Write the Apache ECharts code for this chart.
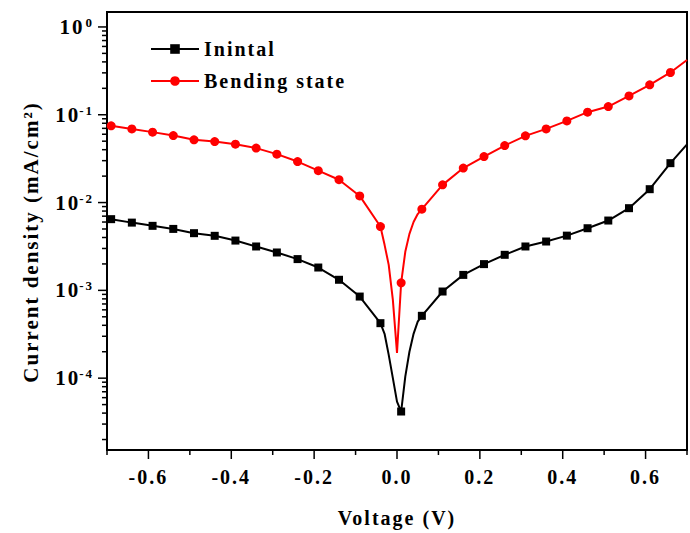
<!DOCTYPE html>
<html>
<head>
<meta charset="utf-8">
<script src="https://cdn.jsdelivr.net/npm/echarts@6/dist/echarts.min.js"></script>
<style>
    html, body { margin: 0; padding: 0; background: #fff; }
    #chart { width: 690px; height: 533px; }
    /* the original export has wide letter spacing */
    #chart text { letter-spacing: 2px; }
</style>
</head>
<body>
<div id="chart"></div>
<script>
// voltages that carry a symbol (every 0.05 V)
var markedVoltage = [-0.69, -0.64, -0.59, -0.54, -0.49, -0.44, -0.39, -0.34, -0.29, -0.24,
    -0.19, -0.14, -0.09, -0.04, 0.01, 0.06, 0.11, 0.16, 0.21, 0.26,
    0.31, 0.36, 0.41, 0.46, 0.51, 0.56, 0.61, 0.66];
var inintalMarked = [0.00647, 0.00591, 0.00543, 0.00501, 0.00448, 0.00418, 0.00369, 0.00316, 0.0027, 0.00227,
    0.00182, 0.00132, 0.00085, 0.000423, 0.0000417, 0.000513, 0.00097, 0.0015, 0.00199, 0.00254,
    0.00316, 0.0036, 0.0042, 0.0051, 0.00624, 0.00863, 0.0142, 0.0281];
var bendingMarked = [0.0748, 0.069, 0.0634, 0.058, 0.0518, 0.0495, 0.0462, 0.0417, 0.0356, 0.0293,
    0.0231, 0.0182, 0.0119, 0.00533, 0.00122, 0.00841, 0.0159, 0.0247, 0.0334, 0.0446,
    0.0575, 0.069, 0.0851, 0.107, 0.124, 0.164, 0.219, 0.303];

// points between the symbols (around the dip and at the right edge)
var extraVoltage = [-0.03, -0.02, -0.01, 0.0, 0.02, 0.03, 0.04, 0.05, 0.7];
var inintalExtra = [0.00032, 0.000184, 0.0001, 0.000054, 0.000104, 0.0002, 0.00032, 0.00044, 0.046];
var bendingExtra = [0.0033, 0.00195, 0.00078, 0.000194, 0.00275, 0.0044, 0.006, 0.0074, 0.42];

// axes
var xLabels = ['-0.6', '-0.4', '-0.2', '0.0', '0.2', '0.4', '0.6'];
var xMajorTicks = [-0.6, -0.4, -0.2, 0, 0.2, 0.4, 0.6];
var xMinorTicks = [-0.7, -0.5, -0.3, -0.1, 0.1, 0.3, 0.5, 0.7];
var yMajorTicks = [1e-4, 1e-3, 1e-2, 1e-1, 1];
var yDecades = [1e-5, 1e-4, 1e-3, 1e-2, 1e-1];
var yMinorSteps = [2, 3, 4, 5, 6, 7, 8, 9];

var X_MIN = -0.7, X_MAX = 0.7;
var Y_MIN = 1.52e-5, Y_MAX = 1.48;
var FONT = 'Liberation Serif';

function buildData(markedY, extraY) {
    var pts = markedVoltage.map(function (v, i) { return { value: [v, markedY[i]] }; });
    extraVoltage.forEach(function (v, i) {
        pts.push({ value: [v, extraY[i]], symbol: 'none' });
    });
    pts.sort(function (a, b) { return a.value[0] - b.value[0]; });
    return pts;
}

// tick list: {value, major}
var yTicks = yMajorTicks.map(function (v) { return { value: v, major: true }; });
yDecades.forEach(function (d) {
    yMinorSteps.forEach(function (m) { yTicks.push({ value: d * m, major: false }); });
});
var xTicks = xMajorTicks.map(function (v) { return { value: v, major: true }; })
    .concat(xMinorTicks.map(function (v) { return { value: v, major: false }; }));

function tickSeries(ticks, dir) {
    return {
        type: 'custom',
        silent: true,
        clip: false,
        z: 5,
        data: ticks.map(function (t) { return dir === 'y' ? [X_MIN, t.value] : [t.value, Y_MIN]; }),
        renderItem: function (params, api) {
            var t = ticks[params.dataIndex];
            var len = t.major ? 9 : 5;
            var p = api.coord(dir === 'y' ? [X_MIN, t.value] : [t.value, Y_MIN]);
            var shape = dir === 'y'
                ? { x1: p[0] - len, y1: p[1], x2: p[0], y2: p[1] }
                : { x1: p[0], y1: p[1], x2: p[0], y2: p[1] + len };
            return { type: 'line', shape: shape, style: { stroke: '#000', lineWidth: 1.5 } };
        }
    };
}

var chart = echarts.init(document.getElementById('chart'), null, { renderer: 'svg' });

var option = {
    backgroundColor: '#fff',
    animation: false,
    grid: {
        left: 107, top: 12, right: -8, bottom: 83,
        show: true, borderColor: '#000', borderWidth: 2
    },
    legend: {
        data: ['Inintal', 'Bending state'],
        orient: 'vertical',
        left: 145,
        top: 34,
        itemWidth: 48,
        itemHeight: 12,
        itemGap: 12,
        textStyle: { fontFamily: FONT, fontWeight: 'bold', fontSize: 20, color: '#000' }
    },
    xAxis: {
        type: 'value',
        min: X_MIN,
        max: X_MAX,
        interval: 0.1,
        name: 'Voltage (V)',
        nameLocation: 'middle',
        nameGap: 58,
        nameTextStyle: { fontFamily: FONT, fontWeight: 'bold', fontSize: 20, color: '#000' },
        axisLine: { onZero: false, lineStyle: { color: '#000', width: 2 } },
        axisTick: { show: false },
        splitLine: { show: false },
        axisLabel: {
            interval: 0,
            margin: 17,
            fontFamily: FONT, fontWeight: 'bold', fontSize: 20, color: '#000',
            formatter: function (v) {
                var s = v.toFixed(1);
                if (s === '-0.0') s = '0.0';
                return xLabels.indexOf(s) >= 0 ? s : '';
            }
        }
    },
    yAxis: {
        type: 'log',
        min: Y_MIN,
        max: Y_MAX,
        name: 'Current density (mA/cm²)',
        nameLocation: 'middle',
        nameGap: 66,
        nameRotate: 90,
        nameTextStyle: {
            fontFamily: FONT, fontWeight: 'bold', fontSize: 21, color: '#000',
            padding: [0, 22, 0, 0]
        },
        axisLine: { show: true, onZero: false, lineStyle: { color: '#000', width: 2 } },
        axisTick: { show: false },
        splitLine: { show: false },
        axisLabel: {
            margin: 13,
            showMinLabel: false,
            showMaxLabel: false,
            formatter: function (v) {
                var e = Math.log(v) / Math.LN10;
                var r = Math.round(e);
                if (Math.abs(e - r) > 0.01) return '';
                return '{base|10}{sup|' + r + '}';
            },
            rich: {
                base: { fontFamily: FONT, fontWeight: 'bold', fontSize: 21, lineHeight: 22, color: '#000' },
                sup: { fontFamily: FONT, fontWeight: 'bold', fontSize: 13, verticalAlign: 'top', padding: [0, 0, 0, 3], color: '#000' }
            }
        }
    },
    series: [
        {
            name: 'Inintal',
            type: 'line',
            data: buildData(inintalMarked, inintalExtra),
            symbol: 'rect',
            symbolSize: 8,
            color: '#000',
            lineStyle: { color: '#000', width: 2 },
            itemStyle: { color: '#000' },
            z: 3
        },
        {
            name: 'Bending state',
            type: 'line',
            data: buildData(bendingMarked, bendingExtra),
            symbol: 'circle',
            symbolSize: 9,
            color: '#ff0000',
            lineStyle: { color: '#ff0000', width: 2 },
            itemStyle: { color: '#ff0000' },
            z: 4
        },
        tickSeries(yTicks, 'y'),
        tickSeries(xTicks, 'x')
    ]
};

chart.setOption(option);
</script>
</body>
</html>
